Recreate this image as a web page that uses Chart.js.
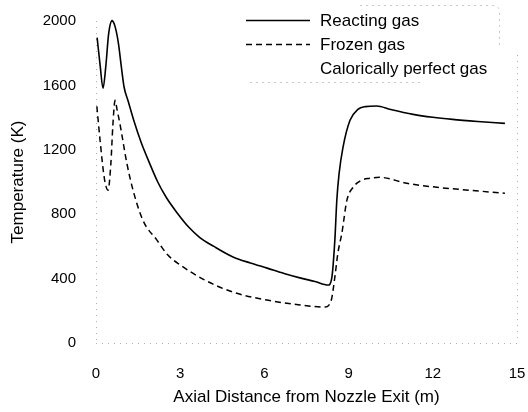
<!DOCTYPE html>
<html>
<head>
<meta charset="utf-8">
<script src="https://cdn.jsdelivr.net/npm/chart.js@4/dist/chart.umd.min.js"></script>
<style>
html,body{margin:0;padding:0;background:#fff;}
#wrap{width:528px;height:412px;position:relative;}
</style>
</head>
<body>
<div id="wrap"><canvas id="c" width="528" height="412"></canvas></div>
<script>
// ---- data ----
const seriesLabels = ['Reacting gas', 'Frozen gas', 'Calorically perfect gas'];
const reactingX = [0.04,0.15,0.25,0.35,0.45,0.57,0.68,0.8,0.9,1.0,1.15,1.35,1.6,1.9,2.2,2.5,2.9,3.3,3.7,4.2,4.9,5.5,6.1,6.7,7.3,7.8,8.27,8.4,8.51,8.58,8.66,8.8,9.05,9.33,9.6,10.0,10.5,11.3,12.0,12.7,13.6,14.57];
const reactingT = [1897,1720,1582,1720,1920,2003,1965,1860,1720,1590,1500,1380,1250,1120,1000,905,806,720,655,600,533,497,465,432,403,382,360,403,639,887,1050,1215,1383,1451,1468,1472,1450,1420,1402,1389,1376,1364];
const frozenX = [0.03,0.15,0.3,0.43,0.53,0.6,0.68,0.75,0.85,1.1,1.32,1.67,2.17,2.56,3.0,3.81,4.88,6.09,7.27,8.16,8.3,8.4,8.51,8.62,8.76,8.94,9.16,9.45,9.76,10.1,11.08,12.15,13.3,14.57];
const frozenT = [1470,1250,1020,949,1116,1350,1507,1450,1364,1116,949,763,639,546,485,397,316,267,236,223,235,279,409,560,682,887,967,1010,1023,1029,992,967,949,930];
const caloricX = [];
const caloricT = [];
const xTicks = [0,3,6,9,12,15];
const yTicks = [0,400,800,1200,1600,2000];

const toPts = (xs, ys) => xs.map((x, i) => ({x: x, y: ys[i]}));
const FONT = "Arial, 'Liberation Sans', sans-serif";

const legendPlugin = {
  id: 'customLegend',
  afterDraw(chart) {
    const ctx = chart.ctx;
    ctx.save();
    ctx.strokeStyle = '#c8c8c8';
    ctx.lineWidth = 1;
    ctx.setLineDash([2, 4]);
    ctx.beginPath();
    ctx.moveTo(360, 5.5); ctx.lineTo(492, 5.5);
    ctx.quadraticCurveTo(499.5, 5.5, 499.5, 12);
    ctx.lineTo(499.5, 45);
    ctx.moveTo(250, 82.5); ctx.lineTo(420, 82.5);
    ctx.stroke();
    ctx.setLineDash([]);
    const rows = [21, 45, 69];
    chart.data.datasets.forEach((ds, i) => {
      const y = rows[i];
      if (ds.data.length) {
        ctx.strokeStyle = ds.borderColor;
        ctx.lineWidth = ds.borderWidth;
        ctx.setLineDash(ds.borderDash || []);
        ctx.beginPath();
        ctx.moveTo(246, y - 0.5);
        ctx.lineTo(310, y - 0.5);
        ctx.stroke();
        ctx.setLineDash([]);
      }
      ctx.fillStyle = '#000';
      ctx.font = '17px ' + FONT;
      ctx.textBaseline = 'middle';
      ctx.textAlign = 'left';
      ctx.fillText(ds.label, 320, y);
    });
    ctx.restore();
  }
};

const framePlugin = {
  id: 'frame',
  beforeDatasetsDraw(chart) {
    const {ctx, chartArea: a} = chart;
    ctx.save();
    ctx.strokeStyle = '#b0b0b0';
    ctx.lineWidth = 1;
    ctx.setLineDash([1, 5]);
    ctx.beginPath();
    ctx.moveTo(a.left + 0.5, a.top); ctx.lineTo(a.left + 0.5, a.bottom);
    ctx.moveTo(a.left, a.bottom + 0.5); ctx.lineTo(a.right, a.bottom + 0.5);
    ctx.moveTo(a.right + 0.5, 55); ctx.lineTo(a.right + 0.5, a.bottom);
    ctx.stroke();
    ctx.restore();
  }
};

new Chart(document.getElementById('c'), {
  type: 'line',
  data: {
    datasets: [
      {label: seriesLabels[0], data: toPts(reactingX, reactingT), borderColor: '#000', borderWidth: 1.6, pointRadius: 0, cubicInterpolationMode: 'monotone', clip: false, fill: false},
      {label: seriesLabels[1], data: toPts(frozenX, frozenT), borderColor: '#000', borderWidth: 1.5, borderDash: [6, 4], pointRadius: 0, cubicInterpolationMode: 'monotone', clip: false, fill: false},
      {label: seriesLabels[2], data: toPts(caloricX, caloricT), borderColor: '#000', borderWidth: 1, borderDash: [1, 3], pointRadius: 0, fill: false}
    ]
  },
  options: {
    responsive: false,
    animation: false,
    layout: {padding: {left: 0, right: 11, top: 21, bottom: 0}},
    plugins: {legend: {display: false}, tooltip: {enabled: false}},
    scales: {
      x: {
        type: 'linear', min: 0, max: 15,
        afterBuildTicks: s => { s.ticks = xTicks.map(v => ({value: v})); },
        afterFit: s => { s.height = 69; s.paddingLeft = 0; s.paddingRight = 0; },
        grid: {display: false, drawTicks: false},
        border: {display: false},
        ticks: {color: '#000', font: {family: FONT, size: 15}, padding: 22, maxRotation: 0, callback: v => String(v)},
        title: {display: true, text: 'Axial Distance from Nozzle Exit (m)', color: '#000', font: {family: FONT, size: 17}, padding: {top: 2, bottom: 4}}
      },
      y: {
        min: 0, max: 2000,
        afterBuildTicks: s => { s.ticks = yTicks.map(v => ({value: v})); },
        afterFit: s => { s.width = 96; s.paddingTop = 0; s.paddingBottom = 0; },
        grid: {display: false, drawTicks: false},
        border: {display: false},
        ticks: {color: '#000', font: {family: FONT, size: 15}, padding: 20, callback: v => String(v)},
        title: {display: true, text: 'Temperature (K)', color: '#000', font: {family: FONT, size: 17}, padding: {top: 8, bottom: 0}}
      }
    }
  },
  plugins: [framePlugin, legendPlugin]
});
</script>
</body>
</html>
